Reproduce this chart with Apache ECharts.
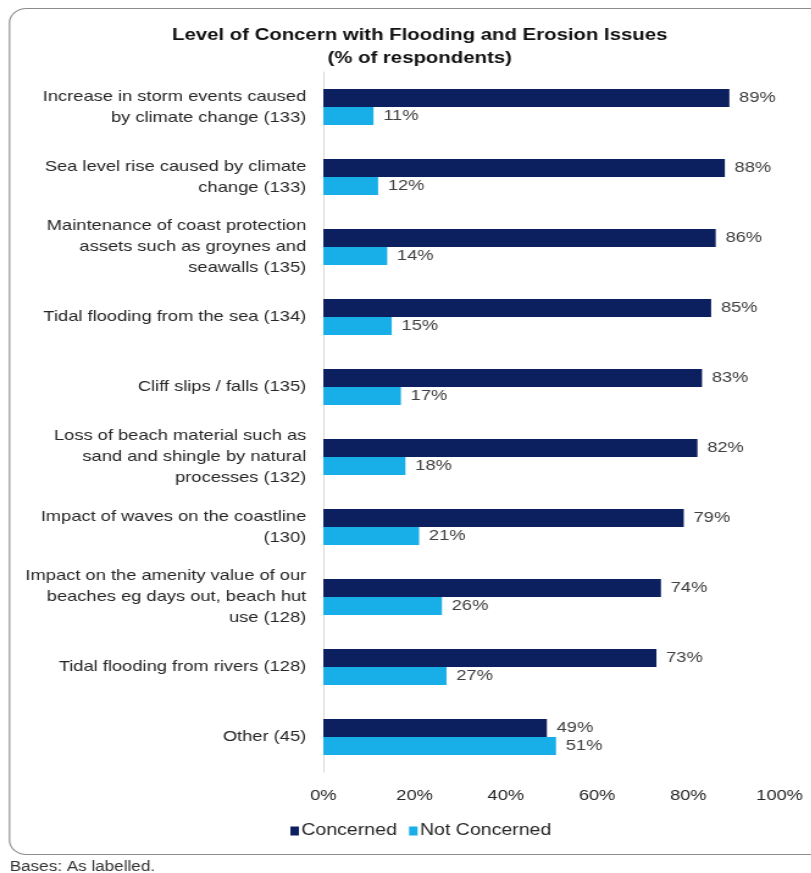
<!DOCTYPE html>
<html>
<head>
<meta charset="utf-8">
<script src="https://cdn.jsdelivr.net/npm/echarts@6/dist/echarts.min.js"></script>
<style>
  html, body { margin: 0; padding: 0; background: #ffffff; overflow: hidden; }
  /* The chart is laid out in a narrower box and widened horizontally,
     giving the broad Arial-style lettering of the printed report. */
  #chart {
    width: 665px;
    height: 873px;
    transform: scaleX(1.22);
    transform-origin: 0 0;
  }
</style>
</head>
<body>
<div id="chart"></div>
<script>
// Survey issues (with respondent base), top to bottom
const categories = [
  'Increase in storm events caused\nby climate change (133)',
  'Sea level rise caused by climate\nchange (133)',
  'Maintenance of coast protection\nassets such as groynes and\nseawalls (135)',
  'Tidal flooding from the sea (134)',
  'Cliff slips / falls (135)',
  'Loss of beach material such as\nsand and shingle by natural\nprocesses (132)',
  'Impact of waves on the coastline\n(130)',
  'Impact on the amenity value of our\nbeaches eg days out, beach hut\nuse (128)',
  'Tidal flooding from rivers (128)',
  'Other (45)'
];
const concerned    = [89, 88, 86, 85, 83, 82, 79, 74, 73, 49];
const notConcerned = [11, 12, 14, 15, 17, 18, 21, 26, 27, 51];
const xTicks = [0, 20, 40, 60, 80, 100];

const FONT = '"Liberation Sans", Arial, sans-serif';
const TEXT = '#262626';

const chart = echarts.init(document.getElementById('chart'), null, { renderer: 'canvas' });

const valueLabel = {
  show: true,
  position: 'right',
  distance: 8,
  formatter: p => p.value + '%',
  fontFamily: FONT,
  fontSize: 15,
  color: '#404040'
};

chart.setOption({
  animation: false,
  backgroundColor: '#ffffff',
  title: {
    text: 'Level of Concern with Flooding and Erosion Issues\n(% of respondents)',
    left: 339,
    top: 19,
    textAlign: 'center',
    textStyle: {
      fontFamily: FONT,
      fontSize: 16.7,
      fontWeight: 'bold',
      color: '#111111',
      lineHeight: 23
    }
  },
  graphic: [
    {
      type: 'rect',
      shape: { x: 7.8, y: 8.5, width: 700, height: 846, r: 14 },
      style: { fill: 'none', stroke: '#8c8c8c', lineWidth: 1.1 },
      silent: true,
      z: -1
    },
    {
      type: 'text',
      left: 8,
      top: 860,
      style: { text: 'Bases: As labelled.', font: '14px ' + FONT, fill: '#333333' }
    }
  ],
  legend: {
    data: ['Concerned', 'Not Concerned'],
    left: 233,
    top: 818,
    itemWidth: 7,
    itemHeight: 9,
    itemGap: 10,
    icon: 'rect',
    textStyle: { fontFamily: FONT, fontSize: 16, color: TEXT, padding: [0, 0, 0, -3] }
  },
  grid: { left: 265, right: 26, top: 72, bottom: 101 },
  xAxis: {
    type: 'value',
    min: xTicks[0],
    max: xTicks[xTicks.length - 1],
    interval: 20,
    axisLine: { show: false },
    axisTick: { show: false },
    splitLine: { show: false },
    axisLabel: {
      margin: 16,
      formatter: v => v + '%',
      fontFamily: FONT,
      fontSize: 15,
      color: TEXT
    }
  },
  yAxis: {
    type: 'category',
    inverse: true,
    data: categories,
    axisLine: { show: true, lineStyle: { color: '#d9d9d9', width: 1 } },
    axisTick: { show: false },
    axisLabel: {
      margin: 14,
      fontFamily: FONT,
      fontSize: 15,
      lineHeight: 21,
      color: TEXT,
      align: 'right'
    }
  },
  series: [
    {
      name: 'Concerned',
      type: 'bar',
      data: concerned,
      barWidth: 18,
      barGap: '0%',
      itemStyle: { color: '#0c1f5f' },
      label: valueLabel
    },
    {
      name: 'Not Concerned',
      type: 'bar',
      data: notConcerned,
      barWidth: 18,
      barGap: '0%',
      itemStyle: { color: '#18afe9' },
      label: valueLabel
    }
  ]
});
</script>
</body>
</html>
